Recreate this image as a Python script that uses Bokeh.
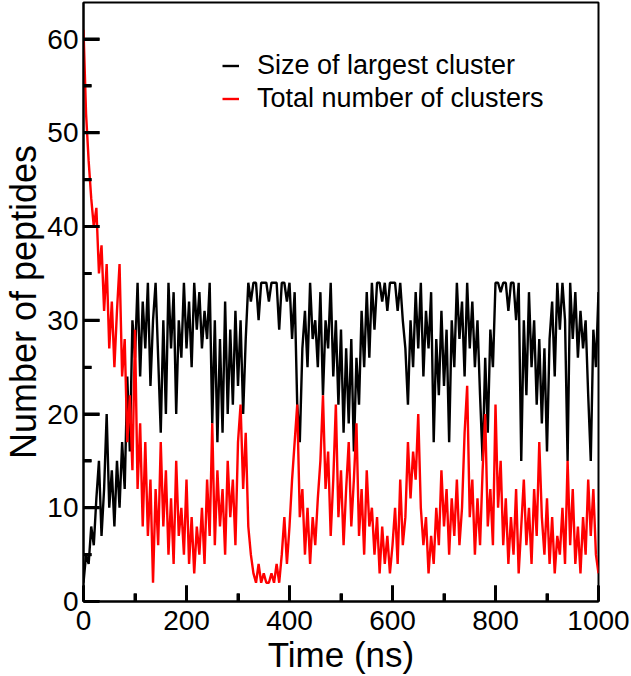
from bokeh.plotting import figure
from bokeh.models import Range1d, Legend, LegendItem, FixedTicker
from bokeh.embed import file_html
from bokeh.resources import INLINE

# sampling grid (ns)
time_ns = list(range(0, 1001, 5))

largest_cluster = [
    2, 5, 4, 8, 6, 11, 15, 7, 12, 20,
    10, 14, 8, 15, 10, 17, 12, 24, 16, 30,
    26, 34, 24, 32, 27, 34, 23, 30, 34, 26,
    18, 30, 20, 34, 27, 33, 20, 30, 26, 34,
    27, 32, 25, 34, 29, 33, 27, 31, 28, 34,
    19, 30, 17, 28, 18, 32, 20, 29, 21, 31,
    23, 30, 20, 28, 34, 32, 34, 34, 30, 34,
    34, 34, 32, 34, 34, 34, 29, 34, 34, 32,
    34, 28, 33, 21, 17, 27, 31, 25, 34, 28,
    30, 25, 33, 22, 30, 27, 34, 24, 30, 21,
    29, 18, 27, 19, 28, 16, 26, 21, 31, 25,
    33, 26, 34, 29, 34, 34, 32, 34, 31, 34,
    34, 34, 31, 34, 30, 27, 21, 30, 25, 33,
    27, 34, 24, 31, 27, 33, 17, 28, 22, 31,
    23, 29, 17, 30, 25, 34, 28, 32, 24, 34,
    27, 32, 25, 30, 22, 15, 26, 18, 29, 25,
    34, 34, 33, 34, 34, 31, 34, 34, 30, 34,
    15, 30, 22, 33, 25, 30, 21, 28, 19, 27,
    16, 28, 32, 24, 34, 29, 34, 30, 15, 34,
    28, 33, 26, 31, 27, 30, 22, 15, 29, 25,
    33,
]

total_clusters = [
    61, 52, 47, 43, 40, 42, 35, 38, 31, 36,
    27, 32, 25, 31, 36, 24, 28, 17, 22, 14,
    29, 12, 19, 8, 17, 7, 13, 2, 12, 6,
    17, 8, 14, 5, 11, 4, 15, 7, 10, 5,
    13, 4, 9, 3, 8, 5, 10, 4, 13, 7,
    19, 6, 14, 8, 12, 5, 15, 9, 13, 6,
    17, 21, 12, 18, 8, 5, 3, 2, 4, 2,
    3, 2, 2, 3, 2, 4, 2, 5, 9, 4,
    8, 13, 17, 21, 9, 12, 5, 10, 4, 9,
    6, 11, 15, 22, 12, 16, 7, 13, 21, 9,
    14, 6, 12, 17, 8, 13, 19, 7, 12, 5,
    14, 8, 10, 5, 9, 3, 8, 4, 7, 3,
    6, 10, 4, 13, 6, 9, 17, 11, 16, 13,
    20, 10, 6, 9, 3, 7, 4, 10, 6, 14,
    8, 12, 5, 11, 7, 13, 6, 10, 18, 23,
    9, 13, 5, 11, 6, 14, 20, 8, 12, 6,
    21, 10, 15, 6, 11, 4, 9, 5, 12, 3,
    8, 13, 6, 10, 4, 12, 7, 17, 9, 5,
    11, 4, 9, 3, 7, 5, 10, 4, 15, 6,
    12, 4, 8, 3, 9, 5, 13, 7, 12, 5,
    3,
]

x_ticks = [0, 200, 400, 600, 800, 1000]
x_minor = [100, 300, 500, 700, 900]
y_ticks = [0, 10, 20, 30, 40, 50, 60]
y_minor = [5, 15, 25, 35, 45, 55]
series_names = ["Size of largest cluster", "Total number of clusters"]
x_title = "Time (ns)"
y_title = "Number of peptides"

FONT = "Liberation Sans"
Y_MAX = 63.9
W, H = 631, 676
BL, BR, BT = 76, 33, 2
FRAME_H = 599
FRAME_W = W - 84 - BR
px_per_y = FRAME_H / Y_MAX
px_per_x = FRAME_W / 1000.0

p = figure(width=W, height=H, output_backend="svg", toolbar_location=None,
           x_range=Range1d(0, 1000), y_range=Range1d(0, Y_MAX),
           min_border_left=BL, min_border_right=BR, min_border_top=BT,
           min_border_bottom=60)

p.grid.visible = False
p.outline_line_color = "black"
p.outline_line_width = 2

r_black = p.line(time_ns, largest_cluster, line_color="black", line_width=2.4)
r_red = p.line(time_ns, total_clusters, line_color="#ff0000", line_width=2.4)

# inward tick marks as filled bars (16 px major, 8 px minor, 3 px thick)
hx = 1.5 / px_per_x
hy = 1.5 / px_per_y
p.quad(left=[t - hx for t in x_ticks], right=[t + hx for t in x_ticks],
       bottom=[0] * len(x_ticks), top=[16 / px_per_y] * len(x_ticks),
       fill_color="black", line_color=None)
p.quad(left=[t - hx for t in x_minor], right=[t + hx for t in x_minor],
       bottom=[0] * len(x_minor), top=[8 / px_per_y] * len(x_minor),
       fill_color="black", line_color=None)
p.quad(left=[0] * len(y_ticks), right=[16 / px_per_x] * len(y_ticks),
       bottom=[v - hy for v in y_ticks], top=[v + hy for v in y_ticks],
       fill_color="black", line_color=None)
p.quad(left=[0] * len(y_minor), right=[8 / px_per_x] * len(y_minor),
       bottom=[v - hy for v in y_minor], top=[v + hy for v in y_minor],
       fill_color="black", line_color=None)

for ax in (p.xaxis[0], p.yaxis[0]):
    ax.axis_line_width = 2
    ax.axis_line_color = "black"
    ax.major_tick_in = 16
    ax.major_tick_out = 0
    ax.minor_tick_in = 8
    ax.minor_tick_out = 0
    ax.major_tick_line_color = "black"
    ax.minor_tick_line_color = "black"
    ax.major_tick_line_width = 3
    ax.minor_tick_line_width = 3
    ax.major_label_text_font = FONT
    ax.major_label_text_font_size = "28px"
    ax.major_label_text_color = "black"
    ax.axis_label_text_font = FONT
    ax.axis_label_text_font_style = "normal"
    ax.axis_label_text_color = "black"

p.yaxis.axis_label_text_font_size = "36px"
p.xaxis.axis_label_text_font_size = "35px"
p.xaxis.ticker = FixedTicker(ticks=x_ticks, minor_ticks=x_minor)
p.yaxis.ticker = FixedTicker(ticks=y_ticks, minor_ticks=y_minor)
p.xaxis.axis_label = x_title
p.yaxis.axis_label = y_title
p.xaxis.major_label_standoff = 9
p.yaxis.major_label_standoff = 5
p.xaxis.axis_label_standoff = 2
p.yaxis.axis_label_standoff = 0

legend = Legend(items=[LegendItem(label=series_names[0], renderers=[r_black]),
                       LegendItem(label=series_names[1], renderers=[r_red])],
                location=(139, 487))
legend.border_line_alpha = 0
legend.background_fill_alpha = 0
legend.padding = 0
legend.margin = 0
legend.spacing = 2
legend.glyph_width = 17
legend.glyph_height = 31
legend.label_height = 31
legend.label_standoff = 18
legend.label_text_font = FONT
legend.label_text_font_size = "27px"
legend.label_text_color = "black"
p.add_layout(legend)

open("out.html", "w").write(file_html(p, INLINE))
